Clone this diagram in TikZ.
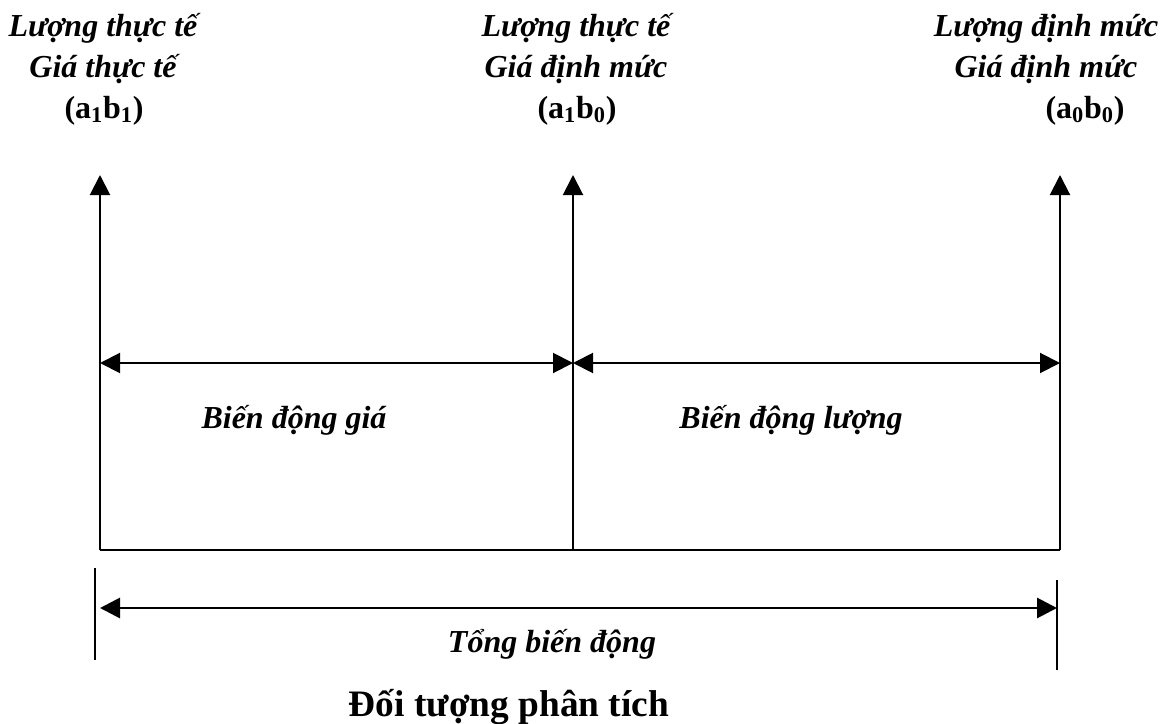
\documentclass[tikz,border=0pt]{standalone}
\usepackage{fontspec}
\setmainfont{Liberation Serif}
\usetikzlibrary{arrows.meta}
\newcommand{\drawline}{\draw[line width=1.5pt]}
\newcommand{\drawspan}{\draw[line width=1.5pt, {Triangle[length=15pt,width=15pt]}-{Triangle[length=15pt,width=15pt]}]}
\newcommand{\drawup}{\draw[line width=1.5pt, -{Triangle[length=15pt,width=15pt]}]}
\tikzset{
  lbl/.style={font=\bfseries\itshape\fontsize{24}{30}\selectfont, inner sep=0pt, anchor=base},
  frm/.style={font=\bfseries\fontsize{24}{30}\selectfont, inner sep=0pt, anchor=base},
  ttl/.style={font=\bfseries\fontsize{28}{34}\selectfont, inner sep=0pt, anchor=base}
}

\begin{document}
\begin{tikzpicture}[x=0.75pt, y=-0.75pt]
\useasboundingbox (0,0) rectangle (1168,724);
% points of the three columns
\coordinate (b1) at (100,550); \coordinate (t1) at (100,175);
\coordinate (b2) at (573,550); \coordinate (t2) at (573,175);
\coordinate (b3) at (1060,550); \coordinate (t3) at (1060,175);
\coordinate (m1) at (100,363); \coordinate (m2) at (573,363); \coordinate (m3) at (1060,363);
% ticks and total span
\coordinate (k1a) at (95,568); \coordinate (k1b) at (95,660);
\coordinate (k2a) at (1057,580); \coordinate (k2b) at (1057,670);
\coordinate (s1) at (100,608); \coordinate (s2) at (1057,608);

% column labels
\node[lbl] (tt1) at (103,37) {Lượng thực tế};
\node[lbl] (tg1) at (103,78) {Giá thực tế};
\node[frm] (ab1) at (104,118) {(a\textsubscript{1}b\textsubscript{1})};
\node[lbl] (tt2) at (576,37) {Lượng thực tế};
\node[lbl] (tg2) at (576,78) {Giá định mức};
\node[frm] (ab2) at (577,118) {(a\textsubscript{1}b\textsubscript{0})};
\node[lbl] (tt3) at (1046,37) {Lượng định mức};
\node[lbl] (tg3) at (1046,78) {Giá định mức};
\node[frm] (ab3) at (1085,118) {(a\textsubscript{0}b\textsubscript{0})};

\drawup (b1)--(t1);
\drawup (b2)--(t2);
\drawup (b3)--(t3);
\drawline (b1)--(b3);
\drawspan (m1)--(m2);
\drawspan (m2)--(m3);

\node[lbl] (gia) at (294,428) {Biến động giá};
\node[lbl] (luong) at (791,428) {Biến động lượng};

\drawline (k1a)--(k1b);
\drawline (k2a)--(k2b);
\draw[line width=2.2pt, {Triangle[length=15pt,width=15pt]}-{Triangle[length=15pt,width=15pt]}] (s1)--(s2);
\node[lbl] (tong) at (552,652) {Tổng biến động};
\node[ttl] (dt) at (509,716) {Đối tượng phân tích};
\end{tikzpicture}
\end{document}
